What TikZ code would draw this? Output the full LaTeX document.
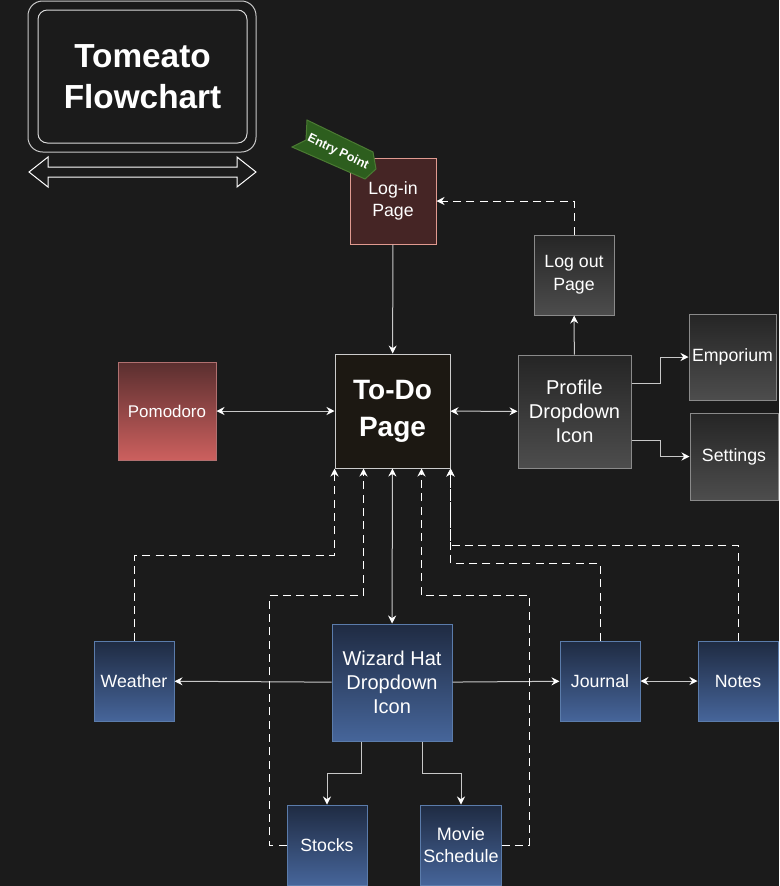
\documentclass[tikz,border=0pt]{standalone}
\usepackage{fontspec}
\setmainfont{Liberation Sans}
\usetikzlibrary{arrows.meta,calc}

\definecolor{bg}{HTML}{1B1B1B}
\definecolor{linegray}{HTML}{C8C8C8}
\definecolor{graytop}{HTML}{252525}
\definecolor{graybot}{HTML}{4D4D4D}
\definecolor{grayedge}{HTML}{8A8A8A}
\definecolor{bluetop}{HTML}{1F2B42}
\definecolor{bluebot}{HTML}{46659A}
\definecolor{blueedge}{HTML}{5B7CAB}
\definecolor{pomotop}{HTML}{5A2F2F}
\definecolor{pomobot}{HTML}{CC605E}
\definecolor{pomoedge}{HTML}{B07070}
\definecolor{loginfill}{HTML}{452525}
\definecolor{loginedge}{HTML}{E09A90}
\definecolor{todofill}{HTML}{1C1812}
\definecolor{tagfill}{HTML}{2D5E1E}
\definecolor{tagedge}{HTML}{4B7A33}

\tikzset{
  box/.style={draw, text=white, align=center, inner sep=2pt, line width=0.75pt,
    font=\fontsize{13.3}{17}\selectfont},
  bigtext/.style={font=\fontsize{15}{18}\selectfont},
  boxsize/.style 2 args={minimum width=#1*0.75pt, minimum height=#2*0.75pt},
  graybox/.style={box, draw=grayedge, top color=graytop, bottom color=graybot},
  bluebox/.style={box, draw=blueedge, top color=bluetop, bottom color=bluebot, boxsize={80}{80}},
  link/.style={draw=linegray, line width=0.75pt},
  dashlink/.style={draw=white, line width=0.75pt, dash pattern=on 6pt off 4pt, ->},
}

\begin{document}
\begin{tikzpicture}[x=0.75pt, y=-0.75pt,
    >={Stealth[length=6pt,width=6pt,inset=2pt,color=white]}]
  \fill[bg] (0,0) rectangle (779,886);
  \useasboundingbox (0,0) rectangle (779,886);

  % title
  \node (titleframe) at (142,76.5) [draw=linegray, fill=black!90, rounded corners=11pt,
    line width=0.75pt, boxsize={228}{151}] {};
  \node (title) at (142.5,76.5) [draw=white!85!black, fill=bg, rounded corners=7pt,
    line width=0.75pt, boxsize={209}{133}, text=white, align=center,
    font=\bfseries\fontsize{25}{31}\selectfont] {Tomeato\\Flowchart};
  \draw[white, fill=bg, line width=0.75pt]
    (29,172) -- (48,157) -- (48,167) -- (237,167) -- (237,157) -- (256,172)
    -- (237,187) -- (237,177) -- (48,177) -- (48,187) -- cycle;

  % nodes
  \node (login) at (393,201) [box, draw=loginedge, fill=loginfill, boxsize={86}{86}] {Log-in\\Page};
  \draw[tagedge, fill=tagfill, line width=0.75pt]
    (307,120) -- (373,152) -- (376,169) -- (365,179) -- (292,147) -- (306,140) -- cycle;
  \node (entry) at (338,152) [rotate=-26, text=white,
    font=\bfseries\fontsize{9.3}{9.3}\selectfont] {Entry Point};
  \node (logout) at (574,275) [graybox, boxsize={80}{80}] {Log out\\Page};
  \node (todo) at (392.5,411) [box, draw=white!80!black, fill=todofill, boxsize={115}{114},
    font=\bfseries\fontsize{21}{28}\selectfont] {To-Do\\Page};
  \node (pomo) at (167,411) [box, draw=pomoedge, top color=pomotop, bottom color=pomobot,
    boxsize={98}{98}, font=\fontsize{12.7}{15}\selectfont] {Pomodoro};
  \node (profile) at (574.5,411.5) [graybox, boxsize={113}{113}, bigtext] {Profile\\Dropdown\\Icon};
  \node (emporium) at (732.5,357) [graybox, boxsize={87}{86}] {Emporium};
  \node (settings) at (734,456.5) [graybox, boxsize={88}{87}] {Settings};
  \node (wizard) at (392,682.5) [bluebox, boxsize={120}{117}, bigtext] {Wizard Hat\\Dropdown\\Icon};
  \node (weather) at (134,681) [bluebox] {Weather};
  \node (journal) at (600,681) [bluebox] {Journal};
  \node (notes) at (738,681) [bluebox] {Notes};
  \node (stocks) at (327,845) [bluebox] {Stocks};
  \node (movie) at (461,845) [bluebox, font=\fontsize{13.5}{16}\selectfont] {Movie\\Schedule};

  % entry points on the bottom of the to-do page
  \coordinate (t1) at (todo.south west);
  \coordinate (t2) at ($(todo.south west)!0.25!(todo.south east)$);
  \coordinate (t4) at ($(todo.south west)!0.75!(todo.south east)$);
  \coordinate (t5) at (todo.south east);

  % solid links
  \begin{scope}[link]
    \draw[->] (login) -- (todo);
    \draw[<->] (pomo) -- (todo);
    \draw[<->] (todo) -- (profile);
    \draw[->] (profile) -- (logout);
    \draw[->] ($(profile.north east)!0.25!(profile.south east)$) -- ++(29,0) |- (emporium.west);
    \draw[->] ($(profile.north east)!0.75!(profile.south east)$) -- ++(29,0) |- (settings.west);
    \draw[<->] (todo) -- (wizard);
    \draw[->] (wizard) -- (weather);
    \draw[->] (wizard) -- (journal);
    \draw[<->] (journal) -- (notes);
    \draw[->] ($(wizard.south west)!0.25!(wizard.south east)$) -- ++(0,32) -| (stocks.north);
    \draw[->] ($(wizard.south west)!0.75!(wizard.south east)$) -- ++(0,32) -| (movie.north);
  \end{scope}

  % dashed links
  \draw[dashlink] (logout.north) |- (login.east);
  \draw[dashlink] (weather.north) |- ($(t1)+(0,87)$) -- (t1);
  \draw[dashlink] (stocks.west) -- ++(-17,0) |- ($(t2)+(0,127)$) -- (t2);
  \draw[dashlink] (movie.east) -- ++(28,0) |- ($(t4)+(0,127)$) -- (t4);
  \draw[dashlink] (journal.north) |- ($(t5)+(0,95)$) -- (t5);
  \draw[dashlink] (notes.north) |- ($(t5)+(0,77)$) -- (t5);
\end{tikzpicture}
\end{document}
